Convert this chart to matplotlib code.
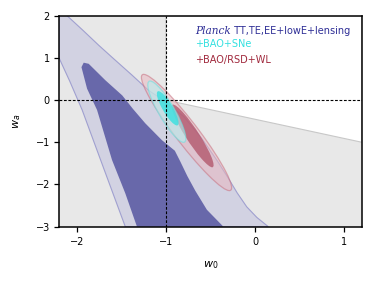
import numpy as np
import matplotlib
matplotlib.use("Agg")
import matplotlib.pyplot as plt
from matplotlib.patches import Polygon, Ellipse

# ---- data ----
xlim = (-2.2, 1.2)
ylim = (-3.0, 2.0)
xticks = [-2, -1, 0, 1]
yticks = [-3, -2, -1, 0, 1, 2]

# excluded / shaded prior region (white part = allowed region)
white_region_x = [-1.0, -1.0, 1.2, 1.2]
white_region_y = [2.0, 0.0, -1.0, 2.0]

# Planck outer (95%) contour
planck_outer_x = [-2.2, -2.11, -1.93, -1.755, -1.587, -1.38, -1.195, -1.045, -0.80,
                  -0.60, -0.42, -0.30, -0.20, -0.093, 0.02, 0.149,
                  -1.456, -1.705, -1.94, -2.08, -2.2]
planck_outer_y = [2.0, 2.0, 1.65, 1.30, 0.98, 0.59, 0.23, 0.02, -0.39,
                  -0.90, -1.45, -1.85, -2.2, -2.53, -2.78, -3.0,
                  -3.0, -1.58, -0.235, 0.45, 1.0]

# Planck inner (68%) contour
planck_inner_x = [-1.923, -1.867, -1.68, -1.49, -1.37, -1.232, -1.045, -0.90, -0.84,
                  -0.76, -0.67, -0.54, -0.355,
                  -1.325, -1.456, -1.605, -1.773, -1.885, -1.948]
planck_inner_y = [0.886, 0.86, 0.47, 0.11, -0.21, -0.55, -0.95, -1.2, -1.45,
                  -1.80, -2.15, -2.60, -3.0,
                  -3.0, -2.21, -1.42, -0.235, 0.27, 0.78]

# +BAO/RSD+WL ellipses: centre x, centre y, full length, full width, angle (deg)
rsd_outer = (-0.769, -0.768, 2.92, 0.30, -70.55)
rsd_inner = (-0.70, -0.85, 1.55, 0.165, -73.4)
# +BAO+SNe ellipses
sne_outer = (-0.99, -0.275, 1.50, 0.20, -75.3)
sne_inner = (-0.98, -0.195, 0.84, 0.125, -75.4)

labels = ["TT,TE,EE+lowE+lensing", "+BAO+SNe", "+BAO/RSD+WL"]
label_colors = ["#2e2e96", "#33e0e0", "#a0283c"]

# ---- figure ----
plt.rcParams['font.family'] = ['DejaVu Sans']
plt.rcParams['mathtext.fontset'] = 'dejavusans'
fig = plt.figure(figsize=(3.79, 2.83), dpi=100)
ax = fig.add_axes([0.1557, 0.199, 0.7993, 0.7456])
ax.set_xlim(*xlim)
ax.set_ylim(*ylim)
ax.set_facecolor("#e8e8e8")

ax.add_patch(Polygon(np.column_stack([white_region_x, white_region_y]), closed=True,
                     facecolor="white", edgecolor="#c8c8c8", lw=0.8, zorder=0.5))

ax.add_patch(Polygon(np.column_stack([planck_outer_x, planck_outer_y]), closed=True,
                     facecolor="#d2d2e2", edgecolor="#a0a0d0", lw=0.8, zorder=1))
ax.add_patch(Polygon(np.column_stack([planck_inner_x, planck_inner_y]), closed=True,
                     facecolor="#6868aa", edgecolor="none", lw=0, zorder=1.1))

def ell(p, fc, ec, alpha, z):
    cx, cy, L, W, ang = p
    return Ellipse((cx, cy), L, W, angle=ang, facecolor=fc, edgecolor=ec,
                   lw=0.9, alpha=alpha, zorder=z)

ax.add_patch(ell(rsd_outer, "#e8b8c0", "#c87080", 0.55, 2))
ax.add_patch(ell(rsd_inner, "#b05066", "none", 0.75, 2.1))
ax.add_patch(ell(sne_outer, "#b8f0f0", "#70e0e0", 0.6, 2.2))
ax.add_patch(ell(sne_inner, "#40e0e0", "none", 0.85, 2.3))

ax.axvline(-1, color="k", ls=(0, (2.5, 1.5)), lw=0.8, zorder=3)
ax.axhline(0, color="k", ls=(0, (2.5, 1.5)), lw=0.8, zorder=3)

ax.set_xticks(xticks)
ax.set_yticks(yticks)
ax.set_xticklabels([f"\u2212{abs(t)}" if t < 0 else str(t) for t in xticks])
ax.set_yticklabels([f"\u2212{abs(t)}" if t < 0 else str(t) for t in yticks])
ax.tick_params(labelsize=7, length=3.5, width=0.9, direction="out")
ax.tick_params(axis="x", pad=4)
ax.tick_params(axis="y", pad=3)
for s in ax.spines.values():
    s.set_linewidth(1.1)
ax.set_xlabel(r"$w_0$", fontsize=8, labelpad=9)
ax.set_ylabel(r"$w_a$", fontsize=8, labelpad=9)

tx = 0.449
t1 = ax.text(tx, 0.915, "Planck", transform=ax.transAxes, fontsize=7.6,
             family="DejaVu Serif", style="italic", color=label_colors[0], va="baseline")
ax.annotate(" " + labels[0], xy=(1, 0), xycoords=t1, fontsize=7.0,
            color=label_colors[0], va="bottom", ha="left")
ax.text(tx, 0.851, labels[1], transform=ax.transAxes, fontsize=7.0,
        color=label_colors[1], va="baseline")
ax.text(tx, 0.776, labels[2], transform=ax.transAxes, fontsize=7.0,
        color=label_colors[2], va="baseline")

fig.savefig("out.png", dpi=100)
